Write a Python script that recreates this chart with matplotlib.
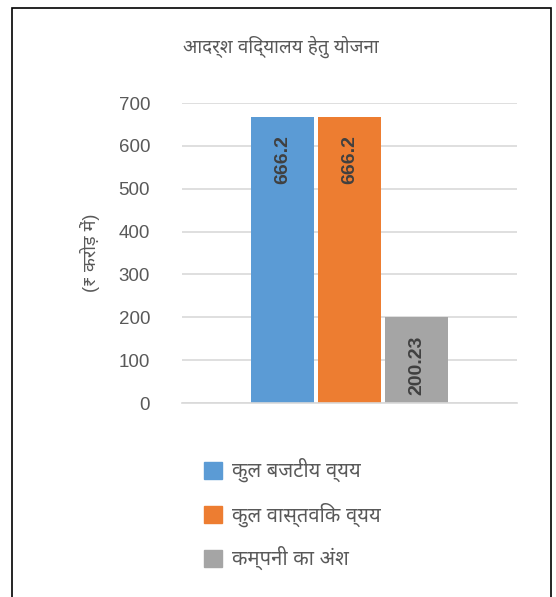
import matplotlib
matplotlib.use("Agg")
import matplotlib.pyplot as plt
from matplotlib.patches import Rectangle, Patch

plt.rcParams['font.family'] = ['Liberation Sans', 'Noto Sans Devanagari', 'DejaVu Sans']

# data
title = "आदर्श विद्यालय हेतु योजना"
ylabel = "(₹ करोड़ में)"
series = ["कुल बजटीय व्यय", "कुल वास्तविक व्यय", "कम्पनी का अंश"]
values = [666.2, 666.2, 200.23]
labels = ["666.2", "666.2", "200.23"]
colors = ["#5b9bd5", "#ed7d31", "#a5a5a5"]
yticks = [0, 100, 200, 300, 400, 500, 600, 700]

W, H = 556, 597
fig = plt.figure(figsize=(W / 100, H / 100), dpi=100)
ax = fig.add_axes([182 / W, 1 - 403 / H, 335 / W, 300 / H])

step = 0.2
width = 0.188
for i, (v, c) in enumerate(zip(values, colors)):
    x = 0.5 + (i - 1) * step
    ax.bar(x, v, width=width, color=c, zorder=2)
    ax.annotate(labels[i], (x, v), xytext=(0, -13), textcoords='offset points',
                rotation=90, ha='center', va='top', fontsize=14,
                fontweight='bold', color='#404040')

ax.set_xlim(0, 1)
ax.set_ylim(0, 700)
ax.set_yticks(yticks)
ax.set_xticks([])
ax.yaxis.grid(True, color='#d9d9d9', linewidth=1.2, zorder=0)
for s in ['top', 'right', 'left']:
    ax.spines[s].set_visible(False)
ax.spines['bottom'].set_color('#d9d9d9')
ax.spines['bottom'].set_linewidth(1.2)
ax.tick_params(axis='y', length=0, pad=23, labelsize=13.5, labelcolor='#595959')
ax.set_ylabel(ylabel, fontsize=13, color='#595959', labelpad=13)

fig.text(281 / W, 1 - 47 / H, title, ha='center', va='center',
         fontsize=13.5, color='#595959')

handles = [Patch(color=c) for c in colors]
fig.legend(handles, series, loc='upper left', bbox_to_anchor=(186 / W, 1 - 440 / H),
           frameon=False, fontsize=14.5, labelcolor='#595959',
           handlelength=0.9, handleheight=0.9, labelspacing=0.98, handletextpad=0.5)

fig.patches.append(Rectangle((12 / W, -0.05), 539 / W, 1.05 - 7.5 / H,
                             transform=fig.transFigure, fill=False,
                             edgecolor='black', linewidth=1.2))

fig.savefig("out.png", dpi=100)
